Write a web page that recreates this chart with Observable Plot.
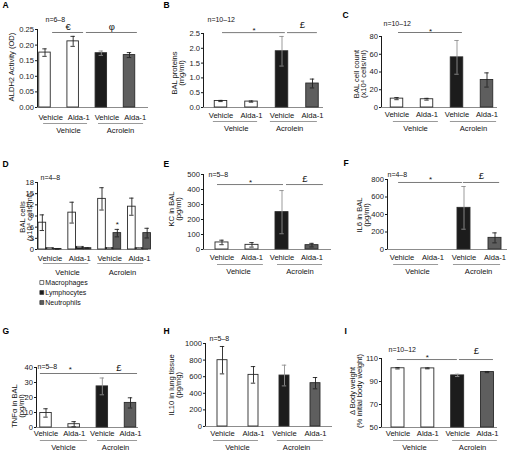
<!DOCTYPE html>
<html><head><meta charset="utf-8">
<script src="https://cdn.jsdelivr.net/npm/d3@7"></script>
<script src="https://cdn.jsdelivr.net/npm/@observablehq/plot@0.6"></script>
<style>
html,body{margin:0;padding:0;background:#fff;}
#fig{position:relative;width:511px;height:452px;overflow:hidden;background:#fff;}
.ylab{position:absolute;transform:translate(-50%,-50%) rotate(-90deg);white-space:pre;text-align:center;
  font-family:"Liberation Sans", Arial, Helvetica, sans-serif;font-size:7.6px;line-height:7.2px;color:#111;}
</style></head><body><div id="fig"></div>
<script>
// ---------------- data ----------------
const treatments = ["Vehicle", "Alda-1", "Vehicle", "Alda-1"];
const exposureGroups = ["Vehicle", "Acrolein"];
const barFills = ["#ffffff", "#ffffff", "#1c1c1c", "#5e5e5e"];
const errColors = ["#222222", "#222222", "#909090", "#222222"];

const aldh2 = [0.176, 0.212, 0.174, 0.168];
const aldh2Err = [0.012, 0.016, 0.007, 0.008];

const balProteins = [0.22, 0.20, 1.90, 0.81];
const balProteinsErr = [0.02, 0.02, 0.50, 0.15];

const balCellCount = [10.0, 9.3, 56.5, 31.0];
const balCellCountErr = [1.2, 1.0, 19.0, 8.0];

const cellTypes = ["Macrophages", "Lymphocytes", "Neutrophils"];
const cellFills = ["#ffffff", "#1c1c1c", "#5e5e5e"];
const cellErrColors = ["#222222", "#909090", "#222222"];
const macrophages = [7.2, 9.9, 13.6, 11.5];
const macrophagesErr = [2.1, 2.8, 3.0, 2.3];
const lymphocytes = [0.35, 0.7, 0.4, 0.35];
const lymphocytesErr = [0.1, 0.1, 0.1, 0.1];
const neutrophils = [0.15, 0.35, 4.4, 4.4];
const neutrophilsErr = [0.05, 0.1, 1.0, 1.3];

const kc = [47, 31, 249, 29];
const kcErr = [15, 15, 144, 12];

const il6 = [0, 0, 476, 133];
const il6Err = [0, 0, 244, 57];

const tnf = [9.7, 2.2, 27.4, 16.4];
const tnfErr = [2.8, 1.7, 5.6, 3.4];

const il10 = [799, 622, 614, 522];
const il10Err = [165, 100, 125, 68];

const bodyWeight = [101.5, 101.4, 95.3, 98.2];
const bodyWeightErr = [0.6, 0.4, 1.0, 0.5];

// ---------------- layout ----------------
const FONT = '"Liberation Sans", Arial, Helvetica, sans-serif';
const FS = 7.6;

const L = {
  A: {left:0, top:0, w:170, h:150, frameL:37, frameR:148, yTop:29, yBot:107, c0:44.5, c3:129, bw:11.5,
      domain:[0,0.25], ticks:[0,0.05,0.1,0.15,0.2,0.25], fmt:".2f", catDy:10, lineDy:16, groupDy:23, labShift:0.2,
      groupLines:[[-0.05,1.51],[1.9,3.5]], groupLabelAt:[0.83,2.68],
      letter:"A", letterPos:[2,4.5], nText:"n=6–8", nPos:[45,19.5],
      ylabel:"ALDH2 Activity (OD)", ylabPos:[12,67],
      sig:[{from:0.27,to:1.37,y:0.2404,sym:"€",dy:-5.4,size:9.5},{from:1.47,to:3.28,y:0.2404,sym:"φ",dy:-6,size:9.5}]},
  B: {left:170, top:0, w:170, h:150, frameL:203, frameR:323, yTop:33, yBot:107, c0:220.5, c3:312, bw:12.5,
      domain:[0,2.5], ticks:[0,0.5,1,1.5,2,2.5], fmt:".1f", catDy:8, lineDy:14, groupDy:21, labShift:0,
      groupLines:[[-0.25,1.2],[1.62,3.16]], groupLabelAt:[0.5,2.25],
      letter:"B", letterPos:[163,4.5], nText:"n=10–12", nPos:[207,19],
      ylabel:"BAL proteins\n(mg/ml)", ylabPos:[177.5,73],
      sig:[{from:0.05,to:2.11,y:2.53,sym:"*",dy:-2.5,size:8},{from:2.18,to:3.16,y:2.53,sym:"£",dy:-7.6,size:9.5}]},
  C: {left:340, top:0, w:171, h:150, frameL:381, frameR:497, yTop:36, yBot:107, c0:396.5, c3:486.5, bw:12.5,
      domain:[0,80], ticks:[0,20,40,60,80], fmt:"d", catDy:7, lineDy:14, groupDy:21, labShift:0,
      groupLines:[[-0.12,1.38],[1.78,3.32]], groupLabelAt:[0.62,2.55],
      letter:"C", letterPos:[342,14.5], nText:"n=10–12", nPos:[383,23],
      ylabel:"BAL cell count\n(x10⁴ cells/ml)", ylabPos:[359.5,73.5],
      sig:[{from:0.05,to:2.18,y:84.5,sym:"*",dy:-1,size:8}]},
  D: {left:0, top:150, w:170, h:160, frameL:37, frameR:148, yTop:182, yBot:249, c0:49.5, c3:139, bw:23,
      domain:[0,18], ticks:[0,3,6,9,12,15,18], fmt:"d", catDy:9, lineDy:14, groupDy:23, labShift:0,
      groupLines:[[-0.22,1.3],[1.6,3.13]], groupLabelAt:[0.59,2.43],
      letter:"D", letterPos:[2,163.5], nText:"n=4–8", nPos:[40,177],
      ylabel:"BAL cells\n(x10⁴ cells/ml)", ylabPos:[25.5,217],
      sig:[], legendX:41.3, legendRows:[282,292,302]},
  E: {left:170, top:150, w:170, h:155, frameL:203, frameR:331, yTop:174, yBot:249, c0:221.5, c3:311.5, bw:13,
      domain:[0,500], ticks:[0,100,200,300,400,500], fmt:"d", catDy:8, lineDy:15, groupDy:22, labShift:0,
      groupLines:[[-0.15,1.38],[1.85,3.35]], groupLabelAt:[0.55,2.6],
      letter:"E", letterPos:[163,163.5], nText:"n=5–8", nPos:[208,174],
      ylabel:"KC in BAL\n(pg/ml)", ylabPos:[174.5,209],
      sig:[{from:-0.15,to:2.05,y:433,sym:"*",dy:-2,size:8},{from:2.15,to:3.38,y:433,sym:"£",dy:-5.6,size:9.5}]},
  F: {left:340, top:150, w:171, h:155, frameL:387, frameR:507, yTop:179, yBot:249, c0:401.5, c3:494.5, bw:13,
      domain:[0,800], ticks:[0,200,400,600,800], fmt:"d", catDy:8, lineDy:15, groupDy:22, labShift:0,
      groupLines:[[-0.27,1.18],[1.66,3.18]], groupLabelAt:[0.5,2.47],
      letter:"F", letterPos:[343,162.5], nText:"n=4–8", nPos:[387,174],
      ylabel:"IL6 in BAL\n(pg/ml)", ylabPos:[363,215],
      sig:[{from:-0.11,to:1.95,y:766,sym:"*",dy:-3,size:8},{from:1.98,to:3.15,y:766,sym:"£",dy:-6.6,size:9.5}]},
  G: {left:0, top:305, w:170, h:147, frameL:36, frameR:138, yTop:367, yBot:427, c0:45.5, c3:130, bw:11.5,
      domain:[0,40], ticks:[0,10,20,30,40], fmt:"d", catDy:6, lineDy:13, groupDy:20, labShift:0,
      groupLines:[[-0.2,1.47],[1.83,3.25]], groupLabelAt:[0.62,2.47],
      letter:"G", letterPos:[2,330.5], nText:"n=5–8", nPos:[37,366],
      ylabel:"TNFα in BAL\n(pg/ml)", ylabPos:[18,406],
      sig:[{from:-0.2,to:1.93,y:36,sym:"*",dy:-4,size:8},{from:1.93,to:3.25,y:36,sym:"£",dy:-5.6,size:9.5}]},
  H: {left:170, top:305, w:170, h:147, frameL:205, frameR:332, yTop:343, yBot:426, c0:222, c3:315, bw:10,
      domain:[0,1000], ticks:[0,200,400,600,800,1000], fmt:"d", catDy:7, lineDy:14, groupDy:21, labShift:0,
      groupLines:[[-0.29,1.16],[1.77,3.26]], groupLabelAt:[0.48,2.39],
      letter:"H", letterPos:[163,330.5], nText:"n=5–8", nPos:[209,338],
      ylabel:"IL10 in lung tissue\n(pg/mg)", ylabPos:[175,385],
      sig:[]},
  I: {left:340, top:305, w:171, h:147, frameL:381, frameR:497, yTop:358, yBot:427, c0:397.5, c3:487, bw:13,
      domain:[50,110], ticks:[50,70,90,110], fmt:"d", catDy:6, lineDy:13, groupDy:20, labShift:0,
      groupLines:[[-0.15,1.36],[1.83,3.33]], groupLabelAt:[0.55,2.5],
      letter:"I", letterPos:[344,331], nText:"n=10–12", nPos:[388,349],
      ylabel:"Δ Body weight\n(% initial body weight)", ylabPos:[355.5,391],
      sig:[{from:-0.02,to:1.99,y:109.1,sym:"*",dy:-2,size:8},{from:2.06,to:3.2,y:109.1,sym:"£",dy:-8.6,size:9.5}]}
};

// ---------------- drawing ----------------
const fig = document.getElementById("fig");

function panel(P, series, opts = {}) {
  const step = (P.c3 - P.c0) / 3;
  const xdom = [(P.frameL - P.c0) / step, 3 + (P.frameR - P.c3) / step];
  const hw = P.bw / 2 / step;
  const cap = 2.2 / step;
  const y0 = P.domain[0];
  // page pixel -> data coordinates (for label anchors outside the frame)
  const xAt = px => (px - P.c0) / step;
  const yAt = py => P.domain[0] + (P.yBot - py) / (P.yBot - P.yTop) * (P.domain[1] - P.domain[0]);
  const bars = [];
  const subw = 2 * hw / series.length;
  series.forEach((s, k) => {
    s.values.forEach((v, i) => {
      const x1 = i - hw + k * subw;
      bars.push({i, k, x1, x2: x1 + subw, xc: x1 + subw / 2, v, e: s.errors[i],
                 fill: s.fills[i], ec: s.errColors[i], star: s.stars ? s.stars[i] : false});
    });
  });
  const shown = bars.filter(b => b.v > y0);
  const withErr = shown.filter(b => b.e > 0);
  const cats = treatments.map((t, i) => ({i, t}));
  const groups = exposureGroups.map((g, j) => ({g, from: P.groupLines[j][0], to: P.groupLines[j][1], at: P.groupLabelAt[j]}));

  const marks = [
    Plot.ruleY([y0], {stroke: "#8c8c8c", strokeWidth: 1}),
    Plot.rect(shown, {x1: "x1", x2: "x2", y1: y0, y2: "v", fill: "fill", stroke: "#2a2a2a", strokeWidth: 0.9}),
    Plot.ruleX(withErr, {x: "xc", y1: b => b.v - b.e, y2: b => b.v + b.e, stroke: "ec", strokeWidth: 0.9}),
    Plot.ruleY(withErr, {x1: b => b.xc - cap, x2: b => b.xc + cap, y: b => b.v + b.e, stroke: "ec", strokeWidth: 0.9}),
    Plot.ruleY(withErr, {x1: b => b.xc - cap, x2: b => b.xc + cap, y: b => b.v - b.e, stroke: "ec", strokeWidth: 0.9}),
    Plot.text(shown.filter(b => b.star), {x: "xc", y: b => b.v + b.e, dy: -5, text: () => "*", fontSize: 8, lineAnchor: "middle", fill: "#111"}),
    Plot.text(cats, {x: c => c.i + P.labShift, y: y0, dy: P.catDy, text: "t", fontSize: FS, lineAnchor: "middle", fill: "#111"}),
    Plot.ruleY(groups, {x1: "from", x2: "to", y: y0, dy: P.lineDy, stroke: "#9a9a9a", strokeWidth: 1}),
    Plot.text(groups, {x: "at", y: y0, dy: P.groupDy, text: "g", fontSize: FS, lineAnchor: "middle", fill: "#111"}),
    Plot.ruleY(P.sig, {x1: "from", x2: "to", y: "y", stroke: "#7a7a7a", strokeWidth: 1}),
    P.sig.map(s => Plot.text([s], {x: d => (d.from + d.to) / 2, y: "y", dy: s.dy, text: "sym", fontSize: s.size, lineAnchor: "middle", fill: "#111"})),
    Plot.text([P.letter], {x: xAt(P.letterPos[0]), y: yAt(P.letterPos[1]),
      text: d => d, fontWeight: "bold", fontSize: 8.5, textAnchor: "start", lineAnchor: "middle", fill: "#000"}),
    Plot.text([P.nText], {x: xAt(P.nPos[0]), y: yAt(P.nPos[1]),
      text: d => d, fontSize: 7, textAnchor: "start", lineAnchor: "middle", fill: "#111"})
  ];
  if (opts.legend) {
    opts.legend.forEach((c, k) => {
      marks.push(Plot.dot([c], {x: xAt(P.legendX), y: yAt(P.legendRows[k]),
        symbol: "square", r: 2.2, fill: cellFills[k], stroke: "#333", strokeWidth: 0.7}));
      marks.push(Plot.text([c], {x: xAt(P.legendX + 3.5), y: yAt(P.legendRows[k]),
        text: d => d, fontSize: 7, textAnchor: "start", lineAnchor: "middle", fill: "#111"}));
    });
  }

  const svg = Plot.plot({
    width: P.w, height: P.h,
    marginLeft: P.frameL - P.left, marginRight: P.left + P.w - P.frameR,
    marginTop: P.yTop - P.top, marginBottom: P.top + P.h - P.yBot,
    style: {background: "none", overflow: "visible", fontFamily: FONT, fontSize: FS + "px", color: "#1a1a1a"},
    x: {domain: xdom, axis: null},
    y: {domain: P.domain, ticks: P.ticks, tickFormat: P.fmt, tickSize: 2, tickPadding: 1.5, line: true, label: null},
    color: {type: "identity"},
    marks
  });
  svg.style.position = "absolute";
  svg.style.left = P.left + "px";
  svg.style.top = P.top + "px";
  svg.style.maxWidth = "none";
  fig.appendChild(svg);

  // rotated y-axis title (HTML text beside the plot)
  const lab = document.createElement("div");
  lab.className = "ylab";
  lab.textContent = P.ylabel;
  lab.style.left = P.ylabPos[0] + "px";
  lab.style.top = P.ylabPos[1] + "px";
  fig.appendChild(lab);
}

const single = (values, errors) => [{values, errors, fills: barFills, errColors: errColors}];

panel(L.A, single(aldh2, aldh2Err));
panel(L.B, single(balProteins, balProteinsErr));
panel(L.C, single(balCellCount, balCellCountErr));
panel(L.D, [
  {values: macrophages, errors: macrophagesErr, fills: macrophages.map(() => cellFills[0]), errColors: macrophages.map(() => cellErrColors[0])},
  {values: lymphocytes, errors: lymphocytesErr, fills: lymphocytes.map(() => cellFills[1]), errColors: lymphocytes.map(() => cellErrColors[1])},
  {values: neutrophils, errors: neutrophilsErr, fills: neutrophils.map(() => cellFills[2]), errColors: neutrophils.map(() => cellErrColors[2]),
   stars: [false, false, true, false]}
], {legend: cellTypes});
panel(L.E, single(kc, kcErr));
panel(L.F, single(il6, il6Err));
panel(L.G, single(tnf, tnfErr));
panel(L.H, single(il10, il10Err));
panel(L.I, single(bodyWeight, bodyWeightErr));
</script>
</body></html>
